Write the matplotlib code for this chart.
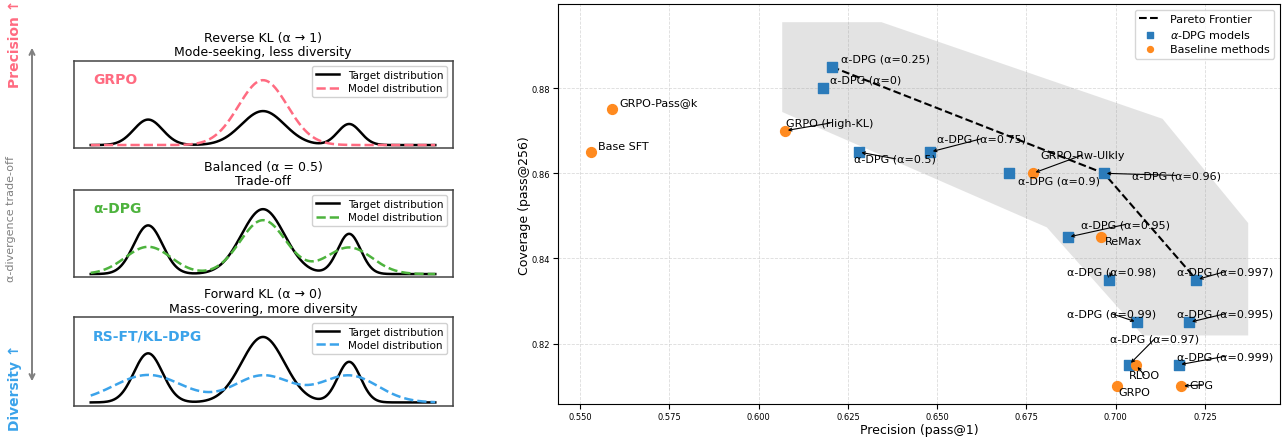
import numpy as np
import matplotlib
matplotlib.use('Agg')
import matplotlib.pyplot as plt
from matplotlib.patches import Polygon, FancyArrowPatch

# ---------------- data: left panels (Gaussian-mixture parameters) ----------------
x_range = [-6.0, 6.0]
mode_means = [-4.0, 0.0, 3.0]
target_amps = [0.75, 1.0, 0.62]
target_sigmas = [0.5, 0.75, 0.4]

grpo_amps = [0.0, 1.91, 0.0]
grpo_sigmas = [0.85, 0.85, 0.85]
adpg_amps = [0.42, 0.83, 0.41]
adpg_sigmas = [0.8, 0.8, 0.8]
rsft_amps = [0.42, 0.41, 0.41]
rsft_sigmas = [1.2, 1.0, 1.0]

panel_titles = ["Reverse KL (α → 1)\nMode-seeking, less diversity",
                "Balanced (α = 0.5)\nTrade-off",
                "Forward KL (α → 0)\nMass-covering, more diversity"]
panel_names = ["GRPO", "α-DPG", "RS-FT/KL-DPG"]

# ---------------- data: right panel ----------------
adpg_labels = ["α-DPG (α=0)", "α-DPG (α=0.25)", "α-DPG (α=0.5)", "α-DPG (α=0.75)",
               "α-DPG (α=0.9)", "α-DPG (α=0.95)", "α-DPG (α=0.96)", "α-DPG (α=0.97)",
               "α-DPG (α=0.98)", "α-DPG (α=0.99)", "α-DPG (α=0.995)", "α-DPG (α=0.997)",
               "α-DPG (α=0.999)"]
adpg_precision = [0.618, 0.6205, 0.628, 0.648, 0.670, 0.6866, 0.6967, 0.7037,
                  0.698, 0.706, 0.7206, 0.7226, 0.7176]
adpg_coverage = [0.880, 0.885, 0.865, 0.865, 0.860, 0.845, 0.860, 0.815,
                 0.835, 0.825, 0.825, 0.835, 0.815]

base_labels = ["Base SFT", "GRPO-Pass@k", "GRPO (High-KL)", "GRPO-Rw-Ulkly",
               "ReMax", "RLOO", "GRPO", "GPG"]
base_precision = [0.553, 0.559, 0.6074, 0.6768, 0.6958, 0.7056, 0.7004, 0.7184]
base_coverage = [0.865, 0.875, 0.870, 0.860, 0.845, 0.815, 0.810, 0.810]

pareto_members = ["α-DPG (α=0.25)", "α-DPG (α=0.96)", "α-DPG (α=0.997)"]

region_precision = [0.6066, 0.6344, 0.7131, 0.7371, 0.7371, 0.7076, 0.6807, 0.6066]
region_coverage = [0.8955, 0.8955, 0.8728, 0.8483, 0.8219, 0.8219, 0.8473, 0.8744]

# ---------------- layout: label centres (data coords) ----------------
label_pos = {
    "α-DPG (α=0)": (0.6301, 0.88195),
    "α-DPG (α=0.25)": (0.6354, 0.8869),
    "α-DPG (α=0.5)": (0.6383, 0.8634),
    "α-DPG (α=0.75)": (0.6623, 0.8681),
    "α-DPG (α=0.9)": (0.6840, 0.8583),
    "α-DPG (α=0.95)": (0.7028, 0.8480),
    "α-DPG (α=0.96)": (0.7170, 0.8595),
    "α-DPG (α=0.97)": (0.7109, 0.8211),
    "α-DPG (α=0.98)": (0.6989, 0.8369),
    "α-DPG (α=0.99)": (0.6989, 0.8270),
    "α-DPG (α=0.995)": (0.7306, 0.8270),
    "α-DPG (α=0.997)": (0.7306, 0.8369),
    "α-DPG (α=0.999)": (0.7306, 0.8170),
    "Base SFT": (0.5620, 0.8664),
    "GRPO-Pass@k": (0.5721, 0.8768),
    "GRPO (High-KL)": (0.6200, 0.8718),
    "GRPO-Rw-Ulkly": (0.6907, 0.8643),
    "ReMax": (0.7023, 0.8440),
    "RLOO": (0.7080, 0.8126),
    "GRPO": (0.7052, 0.8087),
    "GPG": (0.7241, 0.8103),
}
no_arrow = {"α-DPG (α=0)", "α-DPG (α=0.25)", "α-DPG (α=0.9)", "Base SFT",
            "GRPO-Pass@k", "ReMax", "GRPO"}

PINK = "#FF6B81"
GREEN = "#4DB33D"
BLUE = "#3BA3EA"
panel_colors = [PINK, GREEN, BLUE]

W, H = 1287, 439
fig = plt.figure(figsize=(W / 100, H / 100), dpi=100)


def mixture(x, amps, sigmas):
    y = np.zeros_like(x)
    for m, a, s in zip(mode_means, amps, sigmas):
        y += a * np.exp(-(x - m) ** 2 / (2 * s ** 2))
    return y


def fig_rect(l, t, r, b):
    return [l / W, 1 - b / H, (r - l) / W, (b - t) / H]


x = np.linspace(x_range[0], x_range[1], 600)
target = mixture(x, target_amps, target_sigmas)
models = [mixture(x, grpo_amps, grpo_sigmas),
          mixture(x, adpg_amps, adpg_sigmas),
          mixture(x, rsft_amps, rsft_sigmas)]
rects = [fig_rect(73.5, 61.7, 452.5, 149.3),
         fig_rect(73.5, 190.7, 452.5, 278.3),
         fig_rect(73.5, 318.3, 452.5, 406.7)]

for i in range(3):
    ax = fig.add_axes(rects[i])
    ax.plot(x, target, color='black', lw=1.8, label='Target distribution')
    ax.plot(x, models[i], color=panel_colors[i], lw=1.8, ls='--', label='Model distribution')
    M = max(target.max(), models[i].max())
    ax.set_ylim(-0.05 * M, 1.3 * M)
    ax.set_xticks([])
    ax.set_yticks([])
    for sp in ax.spines.values():
        sp.set_color('#444444')
        sp.set_linewidth(1.1)
    ax.set_title(panel_titles[i], fontsize=9, pad=4, linespacing=1.15)
    ax.text(0.052, 0.79, panel_names[i], transform=ax.transAxes, color=panel_colors[i],
            fontsize=10, fontweight='bold', va='center', ha='left')
    ax.legend(loc='upper right', fontsize=7.5, handlelength=2.2, borderpad=0.4,
              labelspacing=0.3, framealpha=0.9)

# side annotations
fig.text(15 / W, 1 - 43.5 / H, "Precision ↑", rotation=90, ha='center', va='center',
         color=PINK, fontsize=10, fontweight='bold')
fig.text(15 / W, 1 - 387.5 / H, "Diversity ↑", rotation=90, ha='center', va='center',
         color=BLUE, fontsize=10, fontweight='bold')
fig.text(11.5 / W, 1 - 219.5 / H, "α-divergence trade-off", rotation=90, ha='center',
         va='center', color='gray', fontsize=8)
fig.add_artist(FancyArrowPatch((32 / W, 1 - 46 / H), (32 / W, 1 - 385 / H),
                               transform=fig.transFigure, arrowstyle='<->',
                               mutation_scale=9, color='gray', lw=1.4))

# ---------------- right panel ----------------
ax = fig.add_axes(fig_rect(558.3, 5.3, 1280, 405))
ax.set_axisbelow(True)
ax.grid(True, ls='--', color='#cccccc', lw=0.6, alpha=0.7)

ax.add_patch(Polygon(np.column_stack([region_precision, region_coverage]), closed=True,
                     facecolor='#9a9a9a', alpha=0.27, edgecolor='none', zorder=1))

px = [adpg_precision[adpg_labels.index(n)] for n in pareto_members]
py = [adpg_coverage[adpg_labels.index(n)] for n in pareto_members]
ax.plot(px, py, 'k--', lw=1.5, zorder=2, label='Pareto Frontier')

ax.scatter(adpg_precision, adpg_coverage, marker='s', s=45, color='#2b7bba', zorder=4,
           label=r'$\alpha$-DPG models')
ax.scatter(base_precision, base_coverage, marker='o', s=50, color='#ff8a1f', zorder=4,
           label='Baseline methods')

for names, xs, ys in [(adpg_labels, adpg_precision, adpg_coverage),
                      (base_labels, base_precision, base_coverage)]:
    for n, xv, yv in zip(names, xs, ys):
        tx, ty = label_pos[n]
        if n in no_arrow:
            ax.text(tx, ty, n, fontsize=8, ha='center', va='center', zorder=5)
        else:
            ax.annotate(n, xy=(xv, yv), xytext=(tx, ty), textcoords='data', fontsize=8,
                        ha='center', va='center', zorder=5,
                        arrowprops=dict(arrowstyle='->', color='black', lw=0.8,
                                        patchA=None, shrinkA=0, shrinkB=2,
                                        mutation_scale=5))

ax.set_xlim(0.5439, 0.746)
ax.set_ylim(0.8058, 0.8997)
xt = [0.55, 0.575, 0.6, 0.625, 0.65, 0.675, 0.7, 0.725]
yt = [0.82, 0.84, 0.86, 0.88]
ax.set_xticks(xt)
ax.set_xticklabels(['%.3f' % v for v in xt])
ax.set_yticks(yt)
ax.set_yticklabels(['%.2f' % v for v in yt])
ax.tick_params(labelsize=6, pad=2.5)
ax.set_xlabel('Precision (pass@1)', fontsize=9, labelpad=1)
ax.set_ylabel('Coverage (pass@256)', fontsize=9, labelpad=0)
ax.legend(loc='upper right', fontsize=8, borderpad=0.4, labelspacing=0.35, markerscale=0.6)

fig.savefig('out.png', dpi=100)
